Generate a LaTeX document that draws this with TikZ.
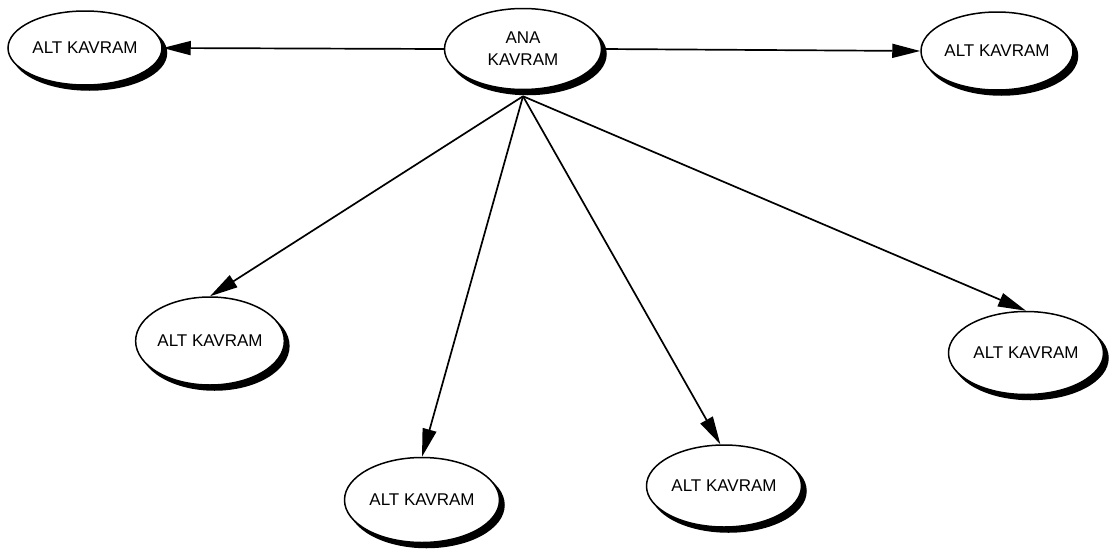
\documentclass[tikz,border=0pt]{standalone}
\usepackage{fontspec}
\setmainfont{Liberation Sans}
\usetikzlibrary{shapes.geometric,shadows,arrows.meta,backgrounds}
\begin{document}
\begin{tikzpicture}[x=1pt,y=-1pt,
  concept/.style={ellipse, draw=black, line width=1.5pt, fill=white, inner sep=0pt,
    font=\fontsize{17}{22}\selectfont, align=center,
    general shadow={fill=black, draw=black, line width=1.5pt,
      shadow xshift=4.5pt, shadow yshift=-5pt}},
  link/.style={line width=1.7pt, -{Triangle[length=28pt,width=14pt]}}]
\useasboundingbox (0,0) rectangle (1109,552);

% central concept and its sub-concepts
\node[concept, minimum width=157pt, minimum height=81pt] (ana) at (523,49) {ANA\\KAVRAM};
\node[concept, minimum width=154pt, minimum height=74pt] (alt1) at (85,48) {ALT KAVRAM};
\node[concept, minimum width=152pt, minimum height=78pt] (alt2) at (997,51) {ALT KAVRAM};
\node[concept, minimum width=148pt, minimum height=88pt] (alt3) at (210,341) {ALT KAVRAM};
\node[concept, minimum width=155pt, minimum height=85pt] (alt4) at (422,500) {ALT KAVRAM};
\node[concept, minimum width=155pt, minimum height=82pt] (alt5) at (724,486) {ALT KAVRAM};
\node[concept, minimum width=155pt, minimum height=83pt] (alt6) at (1026,353) {ALT KAVRAM};

\coordinate (hub) at ([yshift=-6pt]ana.south);

% connectors run beneath the ellipses
\begin{scope}[on background layer]
  \draw[link] (ana.west) -- (alt1.east);
  \draw[link] (ana.east) -- (alt2.west);
  \draw[link] (hub) -- (alt3.north);
  \draw[link] (hub) -- (alt4.north);
  \draw[link] (hub) -- (alt5.95);
  \draw[link] (hub) -- (alt6.north);
\end{scope}
\end{tikzpicture}
\end{document}
